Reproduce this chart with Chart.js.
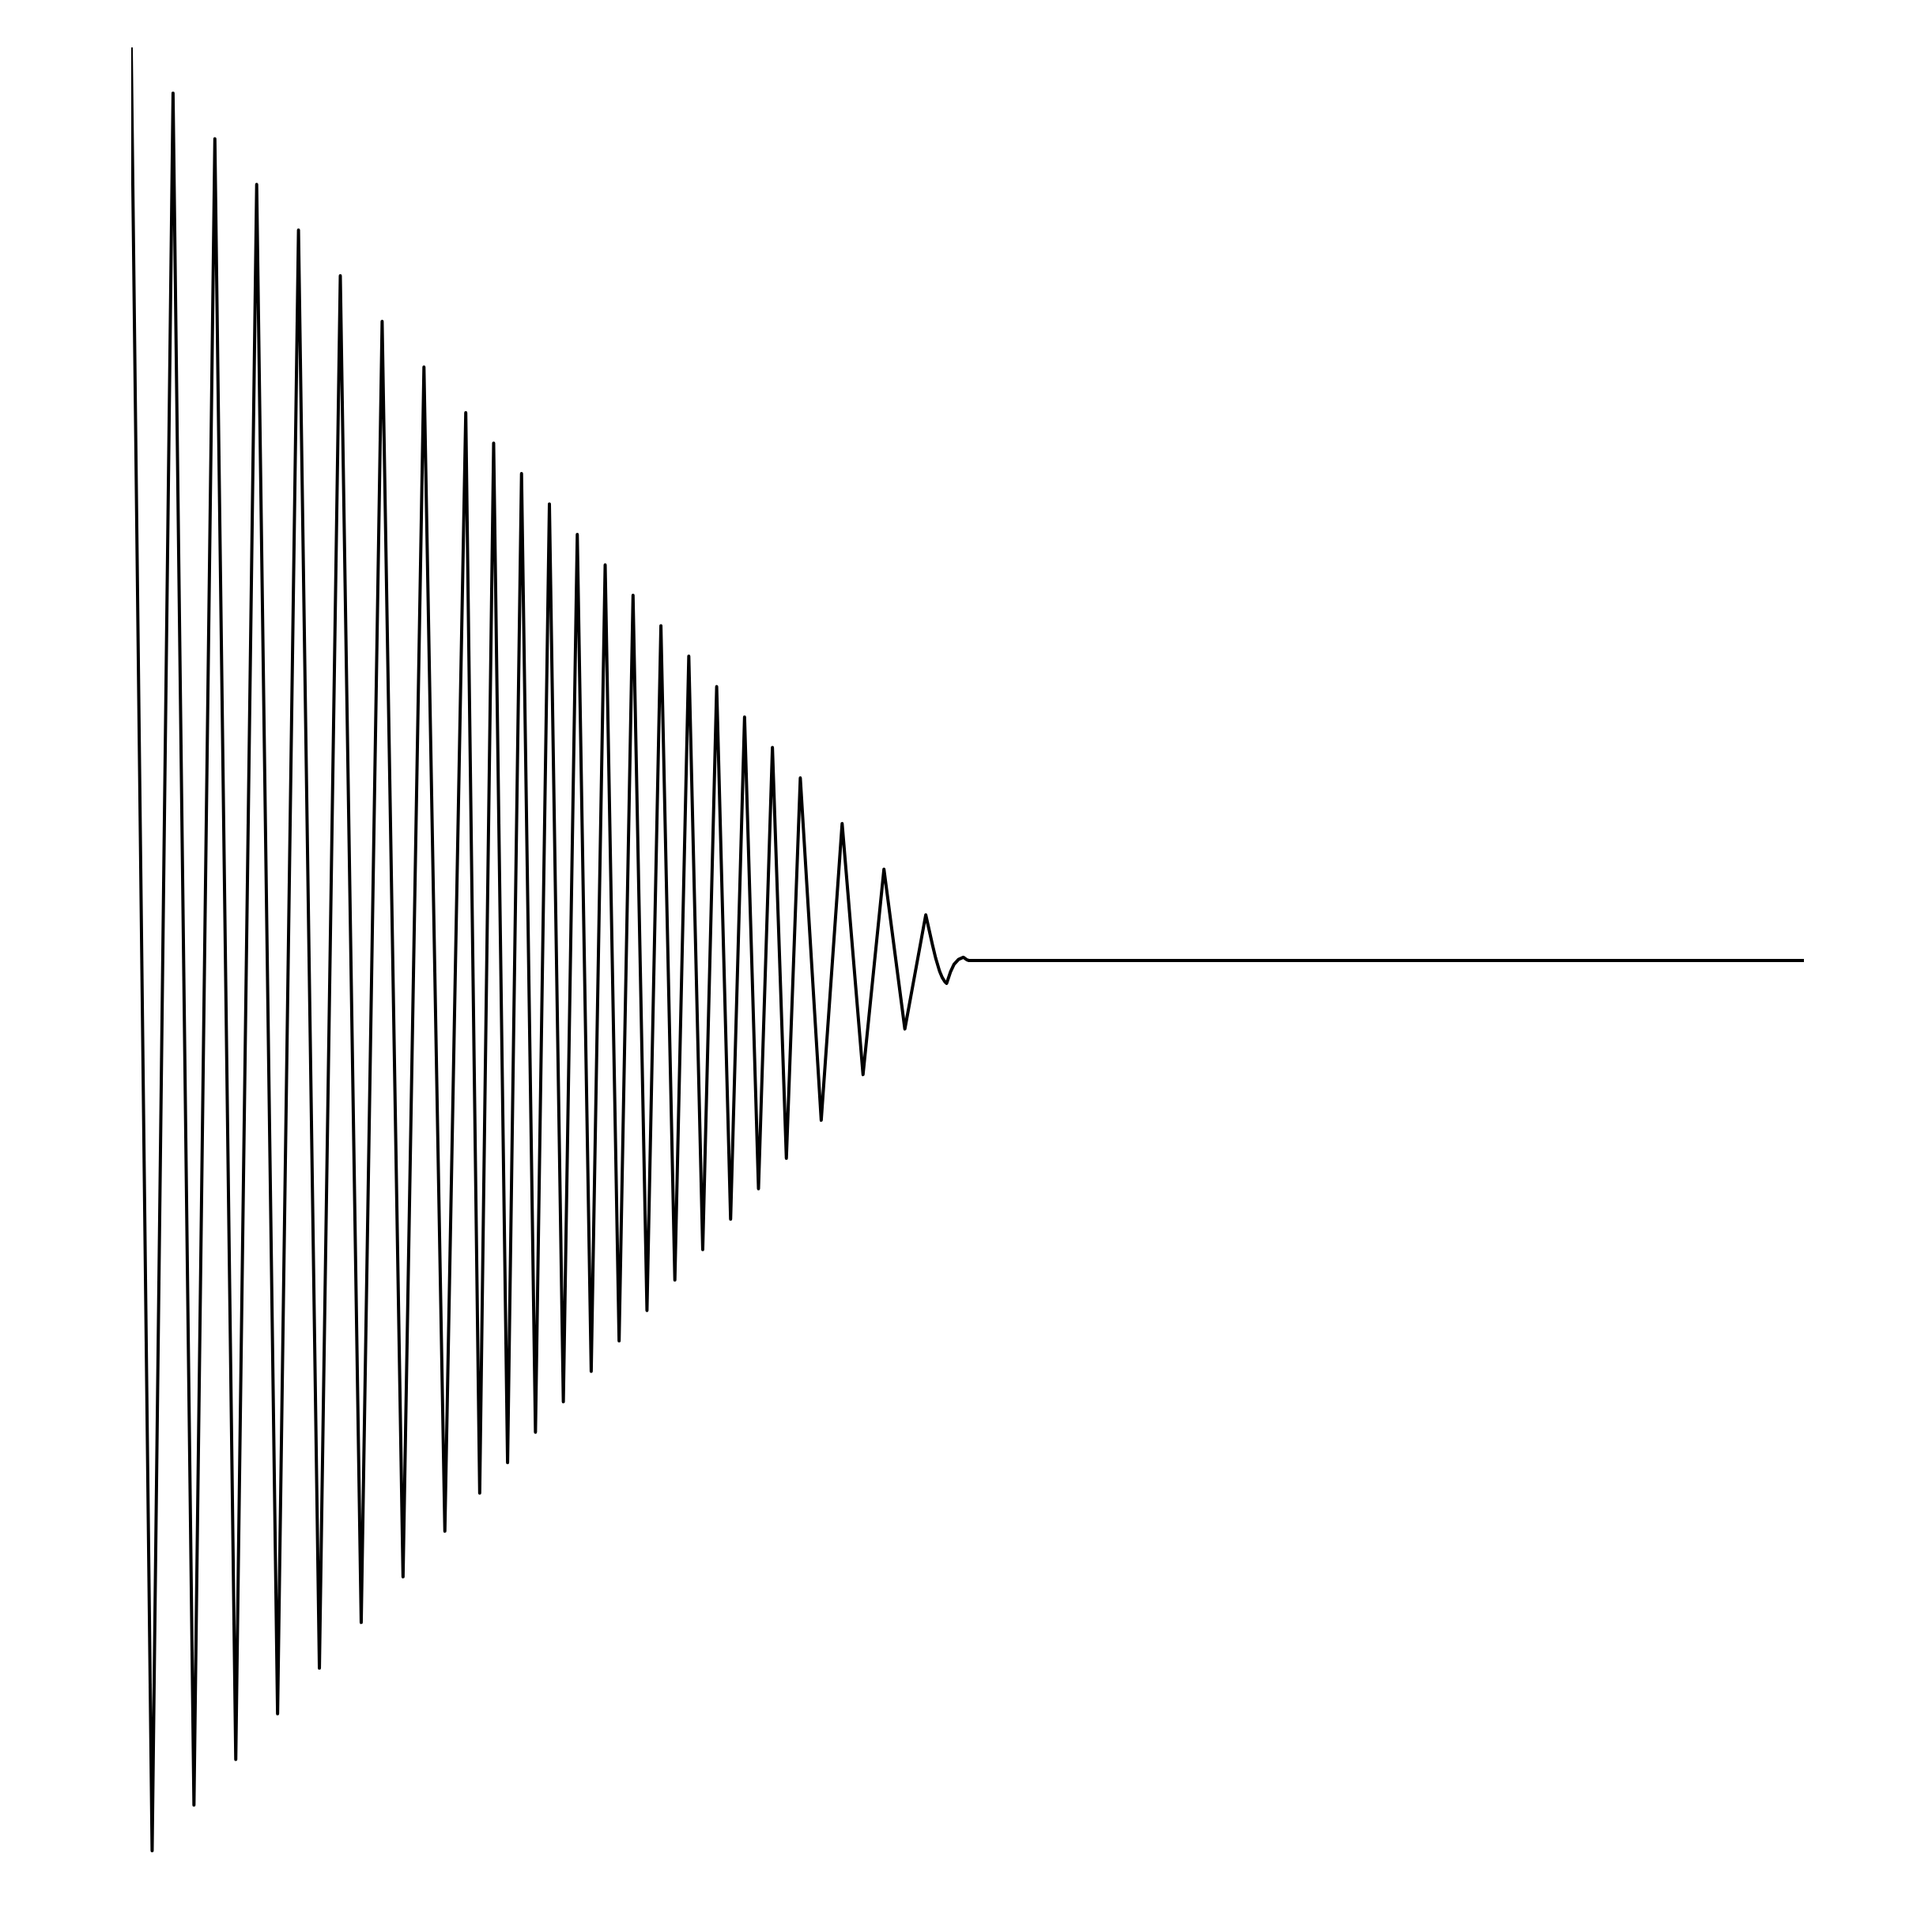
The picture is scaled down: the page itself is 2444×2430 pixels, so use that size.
<!DOCTYPE html>
<html>
<head>
<meta charset="utf-8">
<title>Damped oscillation</title>
<script src="https://cdn.jsdelivr.net/npm/chart.js@4"></script>
<style>
  html, body {
    margin: 0;
    padding: 0;
    background: #ffffff;
  }
  #wrap {
    width: 2444px;
    height: 2430px;
  }
</style>
</head>
<body>
<div id="wrap"><canvas id="signalChart"></canvas></div>
<script>
// sample positions
const xValues = [
  0, 3, 6, 9, 12, 15, 18, 21, 24, 27, 30, 33, 36, 39, 42, 45, 48,
  50, 52, 54, 56, 58, 60, 62, 64, 66, 68, 70, 72, 74, 76, 78, 80, 82, 84, 86,
  88, 90, 92, 94, 96,
  99, 102, 105, 108, 111, 114,
];
const yValues = [
  120, -117, 114, -111, 108, -105, 102, -99, 96, -93, 90, -87, 84, -81, 78,
  -75, 72,
  -70, 68, -66, 64, -62, 60, -58, 56, -54, 52, -50, 48, -46, 44, -42, 40, -38,
  36, -34, 32, -30, 28, -26, 24,
  -21, 18, -15, 12, -9, 6,
];

// last swing is curved: bowed descent, small rounded settle, then flat
const tailX = [
  114.95, 115.41, 115.98, 116.37, 116.75, 117,
  117.55, 118.05, 118.7, 119.4, 119.9, 120.2, 240,
];
const tailY = [
  2.1, 0.35, -1.4, -2.25, -2.8, -3,
  -1.5, -0.5, 0.15, 0.42, 0.1, 0, 0,
];

function buildPoints() {
  const xs = xValues.concat(tailX);
  const ys = yValues.concat(tailY);
  return xs.map((x, i) => ({ x: x, y: ys[i] }));
}

const ctx = document.getElementById("signalChart").getContext("2d");

new Chart(ctx, {
  type: "line",
  data: {
    datasets: [
      {
        data: buildPoints(),
        borderColor: "#000000",
        borderWidth: 4,
        borderJoinStyle: "round",
        borderCapStyle: "butt",
        pointRadius: 0,
        pointHoverRadius: 0,
        tension: 0,
        fill: false,
      },
    ],
  },
  options: {
    responsive: true,
    maintainAspectRatio: false,
    devicePixelRatio: 1,
    animation: false,
    events: [],
    layout: {
      padding: { left: 166, right: 162, top: 60, bottom: 60 },
    },
    plugins: {
      legend: { display: false },
      tooltip: { enabled: false },
      title: { display: false },
    },
    scales: {
      x: {
        type: "linear",
        min: 0,
        max: 240,
        display: false,
      },
      y: {
        type: "linear",
        min: -120,
        max: 120,
        display: false,
      },
    },
  },
});
</script>
</body>
</html>
